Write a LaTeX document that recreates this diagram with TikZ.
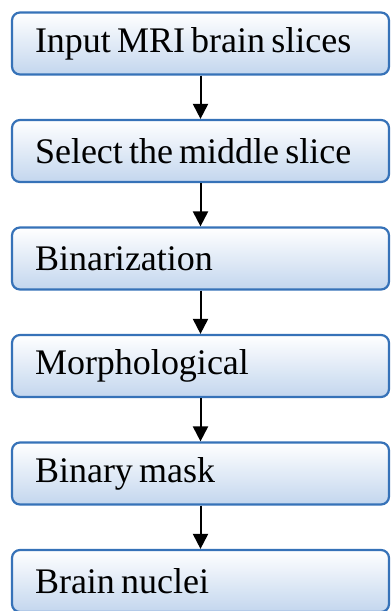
\documentclass[tikz,border=0pt]{standalone}
\usepackage{fontspec}
\setmainfont{Liberation Serif}
\usetikzlibrary{arrows.meta}
\definecolor{StepBorder}{HTML}{3672B8}
\definecolor{StepFill}{HTML}{C3D6EE}
% narrow word spaces, as in the original figure
\newcommand{\tightwords}{\spaceskip=0.17em plus 0.05em\relax}

\tikzset{
  stepbox/.style={draw=StepBorder,line width=2.2pt,rounded corners=8pt,
    top color=white,bottom color=StepFill,
    minimum width=377pt,minimum height=62pt,text width=331pt,
    align=left,inner xsep=23pt,font=\fontsize{36}{42}\selectfont},
  flow/.style={-{Triangle[length=15pt,width=15pt]},line width=2pt,black}
}

\begin{document}
\begin{tikzpicture}[x=1pt,y=-1pt]
  \useasboundingbox (0,0) rectangle (391,611);
  \foreach \i/\txt in {1/Input MRI brain slices,2/Select the middle slice,
                       3/Binarization,4/Morphological,5/Binary mask,6/Brain nuclei}{
    \node[stepbox] (b\i) at (200.5,{43.5+107.5*(\i-1)}) {\tightwords\txt};
  }
  \foreach \i [evaluate=\i as \j using int(\i+1)] in {1,...,5}
    \draw[flow] (b\i.south) -- (b\j.north);
\end{tikzpicture}
\end{document}
